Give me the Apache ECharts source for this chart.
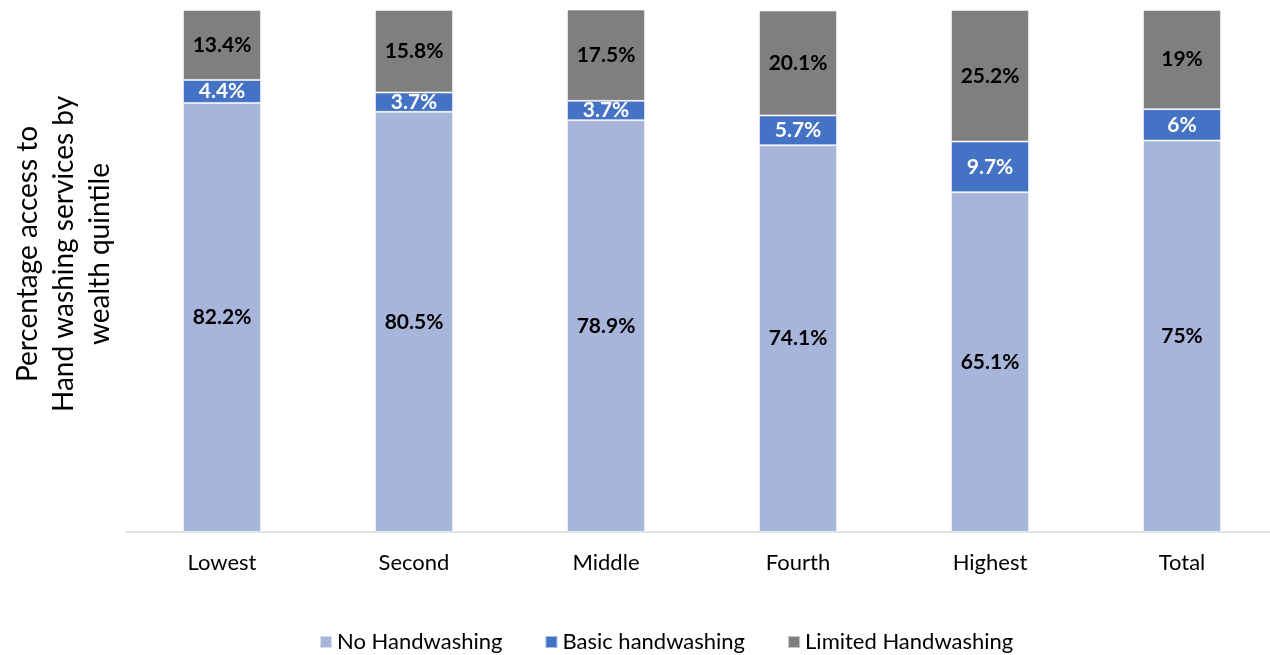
<!DOCTYPE html>
<html>
<head>
<meta charset="utf-8">
<script src="https://cdn.jsdelivr.net/npm/echarts@6/dist/echarts.min.js"></script>
<style>
  html, body { margin: 0; padding: 0; background: #ffffff; overflow: hidden; }
  /* plot runs slightly past the right edge of the window */
  #chart { width: 1278px; height: 655px; }
</style>
</head>
<body>
<div id="chart"></div>
<script>
// Wealth quintiles on the x axis
const categories = ['Lowest', 'Second', 'Middle', 'Fourth', 'Highest', 'Total'];

// Share of households (%) by handwashing service level
const noHandwashing = [82.2, 80.5, 78.9, 74.1, 65.1, 75];
const basicHandwashing = [4.4, 3.7, 3.7, 5.7, 9.7, 6];
const limitedHandwashing = [13.4, 15.8, 17.5, 20.1, 25.2, 19];

const FONT = 'Lato, "Open Sans", sans-serif';

function stackSeries(name, data, color, labelColor) {
  return {
    name: name,
    type: 'bar',
    stack: 'total',
    data: data,
    barWidth: 78,
    itemStyle: { color: color, borderColor: 'rgba(255,255,255,0.55)', borderWidth: 1 },
    label: {
      show: true,
      position: 'inside',
      formatter: p => p.value + '%',
      color: labelColor,
      fontFamily: FONT,
      fontWeight: 'bold',
      fontSize: 21
    },
    emphasis: { disabled: true }
  };
}

const chart = echarts.init(document.getElementById('chart'), null, { renderer: 'canvas' });
chart.setOption({
  animation: false,
  grid: { left: 126, right: 0, top: 10, bottom: 123, containLabel: false },
  xAxis: {
    type: 'category',
    data: categories,
    axisLine: { lineStyle: { color: '#d9d9d9', width: 1.5 } },
    axisTick: { show: false },
    axisLabel: { color: '#000000', fontFamily: FONT, fontSize: 22, margin: 20 }
  },
  yAxis: {
    type: 'value',
    min: 0,
    max: 100,
    axisLine: { show: false },
    axisTick: { show: false },
    axisLabel: { show: false },
    splitLine: { show: false }
  },
  legend: {
    left: 314,
    bottom: -3,
    icon: 'rect',
    itemWidth: 12,
    itemHeight: 12,
    itemGap: 42,
    textStyle: { color: '#000000', fontFamily: FONT, fontSize: 22 },
    data: ['No Handwashing', 'Basic handwashing', 'Limited Handwashing']
  },
  graphic: [{
    type: 'text',
    x: 64,
    y: 254,
    rotation: Math.PI / 2,
    style: {
      text: 'Percentage access to\nHand washing services by\nwealth quintile',
      fill: '#000000',
      font: '28px ' + FONT,
      lineHeight: 36,
      align: 'center',
      verticalAlign: 'middle'
    }
  }],
  series: [
    stackSeries('No Handwashing', noHandwashing, '#a7b5da', '#000000'),
    stackSeries('Basic handwashing', basicHandwashing, '#4472c4', '#ffffff'),
    stackSeries('Limited Handwashing', limitedHandwashing, '#7f7f7f', '#000000')
  ]
});
</script>
</body>
</html>
